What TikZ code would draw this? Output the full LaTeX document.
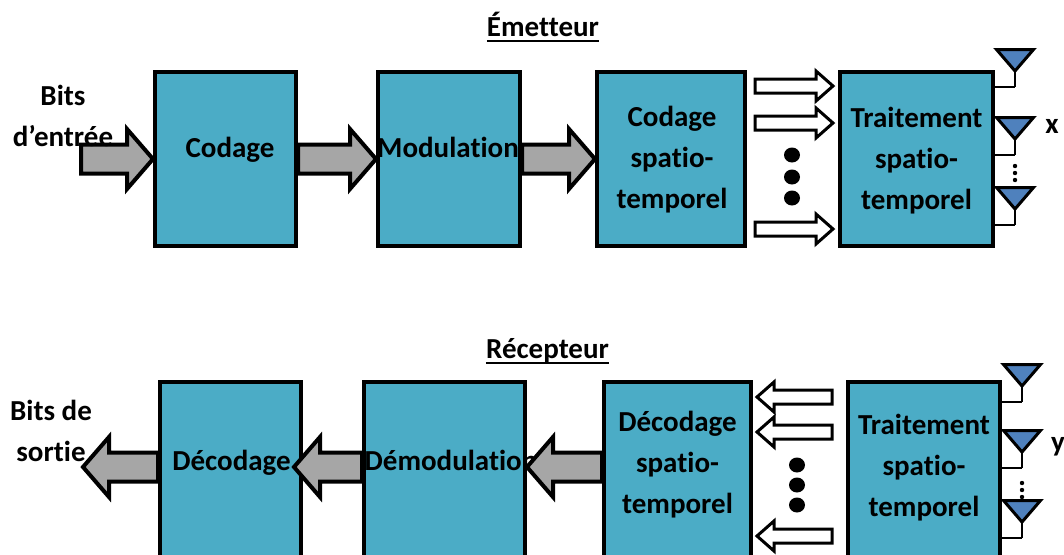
\documentclass[tikz,border=0pt]{standalone}
\usepackage{fontspec}
\setmainfont{Carlito}[Ligatures={NoCommon}]
\usetikzlibrary{calc}
\definecolor{boxcol}{HTML}{4BACC6}
\definecolor{arrgray}{HTML}{A6A6A6}
\definecolor{antblue}{HTML}{4F81BD}
\tikzset{
  blockarrow/.style n args={3}{
    to path={let \p1=(\tikztostart), \p2=(\tikztotarget), \n1={ifthenelse(\x2>\x1,1,-1)} in
      ({\x1},{\y1+#1}) -- ({\x2-\n1*#3},{\y1+#1}) -- ({\x2-\n1*#3},{\y1+#2}) -- ({\x2},{\y1})
      -- ({\x2-\n1*#3},{\y1-#2}) -- ({\x2-\n1*#3},{\y1-#1}) -- ({\x1},{\y1-#1}) -- cycle}
  },
  grayarr/.style={draw=black, fill=arrgray, line width=4pt, line join=miter, blockarrow={14.5pt}{30pt}{26pt}},
  hollowarr/.style={draw=black, fill=white, line width=3pt, line join=miter, blockarrow={7pt}{15pt}{17pt}},
  box/.style={draw=black, line width=4pt, fill=boxcol, rectangle, inner sep=0pt},
  lbl/.style={font=\fontsize{29}{41}\selectfont\bfseries, inner sep=0pt, align=center},
  wire/.style={draw=black, line width=1.5pt},
  bigdot/.style={fill=black},
  antenna/.pic={
    \draw[wire] (0,22) -- (0,39);
    \draw[line width=3pt, line join=miter, fill=antblue] (-18.5,1.5) -- (18.5,1.5) -- (0,23) -- cycle;
    \coordinate (-foot) at (0,39);
  }
}
\begin{document}
\begin{tikzpicture}[x=1pt, y=-1pt]
\useasboundingbox (0,0) rectangle (1064,554);
\clip (0,0) rectangle (1064,554);

% ---------- Emetteur ----------
\node[lbl, anchor=base] (temet) at (543,36) {Émetteur};
\draw[line width=2pt] ([yshift=-5pt]temet.base west) -- ([yshift=-5pt]temet.base east);

\node[box, minimum width=141pt, minimum height=174pt] (cod) at (225.5,159) {};
\node[box, minimum width=142pt, minimum height=174pt] (mod) at (449,159) {};
\node[box, minimum width=148pt, minimum height=174pt] (cst) at (671,159) {};
\node[box, minimum width=153pt, minimum height=174pt] (trt) at (916.5,159) {};

\node[lbl, anchor=base] (tcod) at (230,157) {Codage};
\node[lbl, anchor=base] (tmod) at (448,157) {Modulation};
\node[lbl] (tcst) at (672,160) {Codage\\spatio-\\temporel};
\node[lbl] (ttrt) at (916.5,161) {Traitement\\spatio-\\temporel};

\coordinate (bin) at (81,159);
\draw[grayarr] (bin) to (cod.west);
\draw[grayarr] (cod.east) to (mod.west);
\draw[grayarr] (mod.east) to (cst.west);

\draw[hollowarr] ([xshift=8pt,yshift=73pt]cst.east) to ([xshift=-5pt,yshift=73pt]trt.west);
\draw[hollowarr] ([xshift=8pt,yshift=36pt]cst.east) to ([xshift=-5pt,yshift=36pt]trt.west);
\draw[hollowarr] ([xshift=8pt,yshift=-70pt]cst.east) to ([xshift=-5pt,yshift=-70pt]trt.west);
\fill[bigdot] (792,155) ellipse[x radius=8pt, y radius=7.5pt];
\fill[bigdot] (792,177) ellipse[x radius=8pt, y radius=7.5pt];
\fill[bigdot] (792,198) ellipse[x radius=8pt, y radius=7.5pt];

\pic (ta1) at (1015,48) {antenna};
\pic (ta2) at (1015,116) {antenna};
\pic (ta3) at (1015,186) {antenna};
\draw[wire] (trt.east |- ta1-foot) -- (ta1-foot);
\draw[wire] (trt.east |- ta2-foot) -- (ta2-foot);
\draw[wire] (trt.east |- ta3-foot) -- (ta3-foot);
\fill (1015,166) circle[radius=2.2pt];
\fill (1015,173) circle[radius=2.2pt];
\fill (1015,180) circle[radius=2.2pt];
\node[lbl, anchor=base] (lx) at (1052,133) {x};

\node[lbl] (lin) at (63,116) {Bits\\d’entrée};

% ---------- Recepteur ----------
\node[lbl, anchor=base] (trec) at (547.5,358) {Récepteur};
\draw[line width=2pt] ([yshift=-5pt]trec.base west) -- ([yshift=-5pt]trec.base east);

\node[box, minimum width=141pt, minimum height=176pt] (dec) at (230.5,470) {};
\node[box, minimum width=161pt, minimum height=176pt] (dem) at (444.5,470) {};
\node[box, minimum width=147pt, minimum height=176pt] (dsp) at (677.5,470) {};
\node[box, minimum width=152pt, minimum height=176pt] (trb) at (924,470) {};

\node[lbl, anchor=base] (tdec) at (231.5,470) {Décodage};
\node[lbl, anchor=base] (tdem) at (451,470) {Démodulation};
\node[lbl] (tdsp) at (677.5,465) {Décodage\\spatio-\\temporel};
\node[lbl] (ttrb) at (924,468) {Traitement\\spatio-\\temporel};

\coordinate (bout) at (83,467);
\draw[grayarr] ([yshift=3pt]dec.west) to (bout);
\draw[grayarr] ([yshift=3pt]dem.west) to ([xshift=-9pt,yshift=3pt]dec.east);
\draw[grayarr] ([yshift=3pt]dsp.west) to ([yshift=3pt]dem.east);

\draw[hollowarr] ([xshift=-14pt,yshift=73pt]trb.west) to ([xshift=4pt,yshift=73pt]dsp.east);
\draw[hollowarr] ([xshift=-14pt,yshift=38pt]trb.west) to ([xshift=4pt,yshift=38pt]dsp.east);
\draw[hollowarr] ([xshift=-14pt,yshift=-66pt]trb.west) to ([xshift=4pt,yshift=-66pt]dsp.east);
\fill[bigdot] (797,465) ellipse[x radius=8pt, y radius=7.5pt];
\fill[bigdot] (797,485) ellipse[x radius=8pt, y radius=7.5pt];
\fill[bigdot] (797,505) ellipse[x radius=8pt, y radius=7.5pt];

\pic (ra1) at (1022,363) {antenna};
\pic (ra2) at (1022,429) {antenna};
\pic (ra3) at (1022,499) {antenna};
\draw[wire] (trb.east |- ra1-foot) -- (ra1-foot);
\draw[wire] (trb.east |- ra2-foot) -- (ra2-foot);
\draw[wire] (trb.east |- ra3-foot) -- (ra3-foot);
\fill (1022,483) circle[radius=2.2pt];
\fill (1022,490) circle[radius=2.2pt];
\fill (1022,497) circle[radius=2.2pt];
\node[lbl, anchor=base] (ly) at (1058,451) {y};

\node[lbl] (lout) at (51,431) {Bits de\\sortie};
\end{tikzpicture}
\end{document}
